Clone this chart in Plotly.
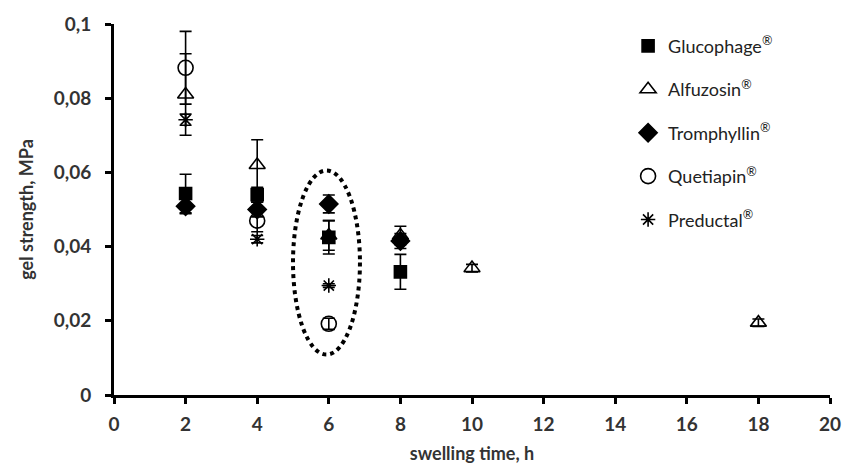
import plotly.graph_objects as go

# ---- data ----
gluc_x = [2, 4, 6, 8]
gluc_y = [0.0543, 0.0540, 0.0425, 0.0332]
gluc_err = [0.0052, 0.0020, 0.0045, 0.0047]

alf_x = [2, 4, 6, 8, 10, 18]
alf_y = [0.0810, 0.0620, 0.0430, 0.0430, 0.0342, 0.0195]
alf_err = [0.0110, 0.0068, 0.0040, 0.0025, 0.0010, 0.0010]

trom_x = [2, 4, 6, 8]
trom_y = [0.0509, 0.0500, 0.0515, 0.0415]
trom_err = [0.0020, 0.0020, 0.0024, 0.0020]

quet_x = [2, 4, 6]
quet_y = [0.0882, 0.0470, 0.0192]
quet_err = [0.0098, 0.0030, 0.0015]

pred_x = [2, 4, 6]
pred_y = [0.0742, 0.0420, 0.0295]
pred_err = [0.0015, 0.0010, 0.0005]

y_ticks = [0, 0.02, 0.04, 0.06, 0.08, 0.1]
y_ticklabels = ["0", "0,02", "0,04", "0,06", "0,08", "0,1"]
x_ticks = list(range(0, 21, 2))

FONT = "Lato"
series = [
    ("Glucophage<sup>®</sup>", gluc_x, gluc_y, gluc_err, "square", 12),
    ("Alfuzosin<sup>®</sup>", alf_x, alf_y, alf_err, "triangle-up-open", 14),
    ("Tromphyllin<sup>®</sup>", trom_x, trom_y, trom_err, "diamond", 14),
    ("Quetiapin<sup>®</sup>", quet_x, quet_y, quet_err, "circle-open", 15),
    ("Preductal<sup>®</sup>", pred_x, pred_y, pred_err, "asterisk-open", 12),
]

fig = go.Figure()
for i, (name, xs, ys, es, sym, sz) in enumerate(series):
    fig.add_trace(go.Scatter(
        x=xs, y=ys, name=name, mode="markers", legendgroup=f"g{i}",
        marker=dict(symbol=sym, size=sz, color="black",
                    line=dict(color="black", width=1.6)),
        error_y=dict(type="data", array=es, visible=True, color="black",
                     thickness=1.6, width=6),
    ))

fig.add_shape(type="circle", xref="x", yref="y", x0=5.0, x1=6.87,
              y0=0.0109, y1=0.0605,
              line=dict(color="black", width=4, dash="dot"))

fig.update_layout(
    width=859, height=473,
    margin=dict(l=114, r=29, t=20, b=77),
    paper_bgcolor="white", plot_bgcolor="white",
    font=dict(family=FONT, color="#333333"),
    showlegend=True,
    legend=dict(x=0.718, y=0.99, xanchor="left", yanchor="top",
                font=dict(size=18, family=FONT, color="#222222"),
                bgcolor="rgba(0,0,0,0)", traceorder="grouped",
                tracegroupgap=17, itemwidth=30),
    xaxis=dict(range=[0, 20], tickvals=x_ticks, showgrid=False, zeroline=False,
               showline=True, linecolor="black", linewidth=3,
               ticks="outside", ticklen=6, tickwidth=3, tickcolor="black",
               ticklabelstandoff=4,
               tickfont=dict(size=19, family=FONT, color="#333333", weight="bold"),
               title=dict(text="swelling time, h", standoff=14,
                          font=dict(size=18, family=FONT, color="#333333", weight="bold"))),
    yaxis=dict(range=[0, 0.1], tickvals=y_ticks, ticktext=y_ticklabels,
               showgrid=False, zeroline=False,
               showline=True, linecolor="black", linewidth=3,
               ticks="outside", ticklen=6, tickwidth=3, tickcolor="black",
               ticklabelstandoff=10,
               tickfont=dict(size=19, family=FONT, color="#333333", weight="bold"),
               title=dict(text="gel strength, MPa", standoff=16,
                          font=dict(size=18, family=FONT, color="#333333", weight="bold"))),
)

fig.write_html("out.html")
